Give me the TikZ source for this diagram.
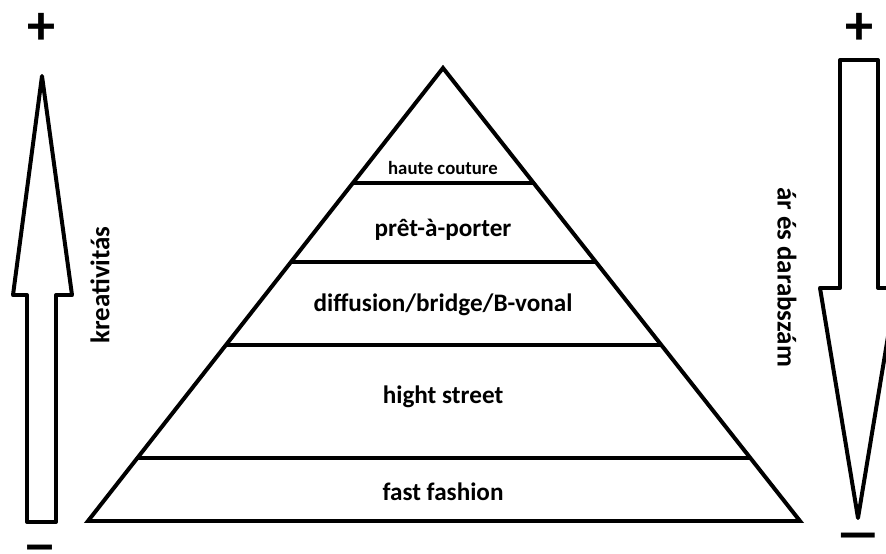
\documentclass[tikz,border=0pt]{standalone}
\usepackage{fontspec}
\setmainfont{Carlito}
\usetikzlibrary{calc}

\begin{document}
\begin{tikzpicture}[
	x=0.03cm,
	y=-0.03cm,
	line width=3.4pt,
	layer/.style={font=\fontsize{21.5}{24}\selectfont\bfseries, inner sep=0pt},
	sidetext/.style={font=\fontsize{23}{26}\selectfont\bfseries, inner sep=0pt},
	sign/.style={font=\fontsize{48}{48}\selectfont\bfseries, inner sep=0pt}
	]
	\useasboundingbox (0,0) rectangle (886,554);

	% --- pyramid ---
	\coordinate (apex) at (443,68);
	\coordinate (bl) at (88,521);
	\coordinate (br) at (800,521);
	\draw (apex) -- (bl) -- (br) -- cycle;
	\foreach \t in {0.254, 0.428, 0.611, 0.861} {
		\draw ($(apex)!\t!(bl)$) -- ($(apex)!\t!(br)$);
	}
	\node[layer, font=\fontsize{16}{18}\selectfont\bfseries] (haute) at (443,168) {haute couture};
	\node[layer] (pret) at (443,230) {prêt-à-porter};
	\node[layer] (diffusion) at (443,305) {diffusion/bridge/B-vonal};
	\node[layer] (hight) at (443,397) {hight street};
	\node[layer] (fast) at (443,492) {fast fashion};

	% --- left: creativity arrow ---
	\draw[line join=round]
		(27,522) -- (27,295) -- (13,295) -- (42,76) -- (72,295)
		-- (56,295) -- (56,522) -- cycle;
	\node[sidetext, rotate=90] (kreat) at (100,285) {kreativitás};
	\node[sign] (lplus) at (42,29) {+};
	\node[sign, xscale=1.25] (lminus) at (40,554) {–};

	% --- right: price and quantity arrow ---
	\draw[line join=round]
		(840,60) -- (878,60) -- (878,288) -- (896,288) -- (858,518)
		-- (820,288) -- (840,288) -- cycle;
	\node[sidetext, rotate=-90] (ar) at (787,277) {ár és darabszám};
	\node[sign] (rplus) at (859,29) {+};
	\node[sign, xscale=1.7] (rminus) at (858,542) {–};
\end{tikzpicture}
\end{document}
